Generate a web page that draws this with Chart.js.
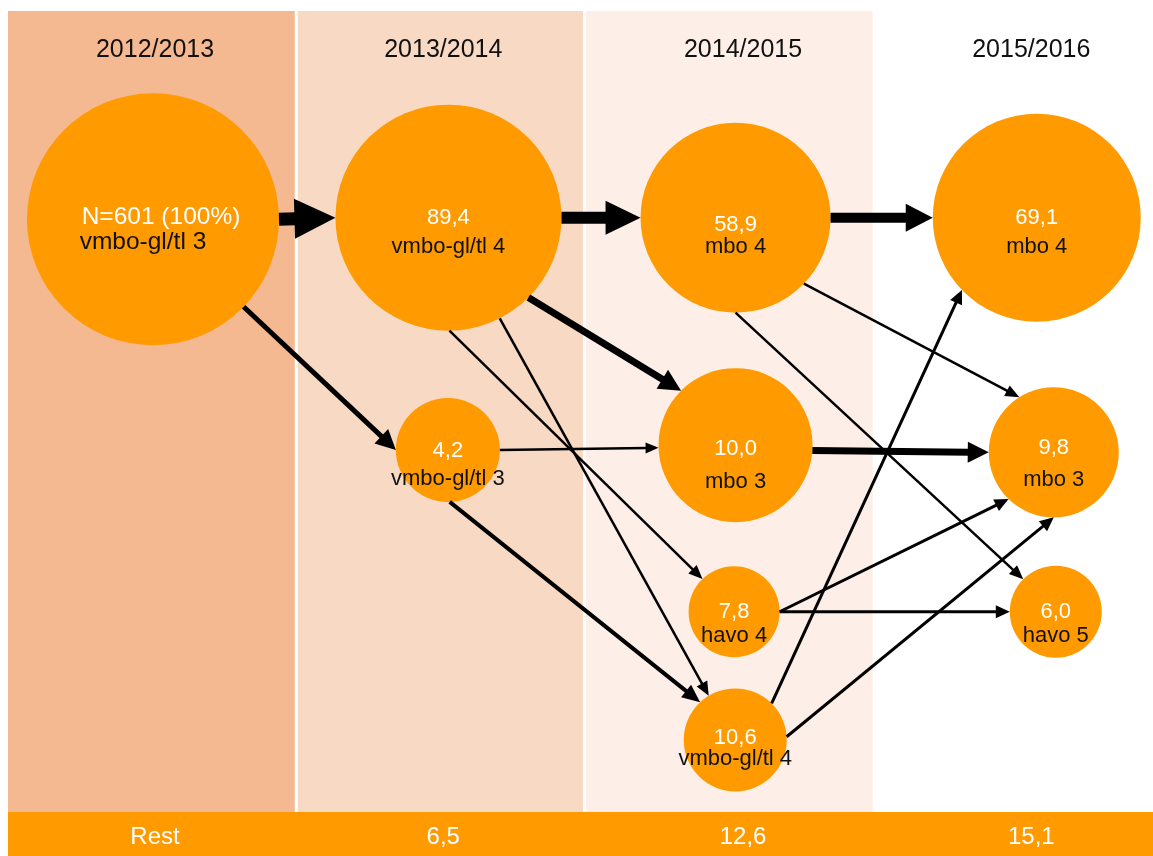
<!DOCTYPE html>
<html>
<head>
<meta charset="utf-8">
<script src="https://cdn.jsdelivr.net/npm/chart.js@4/dist/chart.umd.min.js"></script>
<style>
    html, body { margin: 0; padding: 0; background: #fff; overflow: hidden; }
    #wrap { width: 1161px; height: 856px; }
</style>
</head>
<body>
<div id="wrap"><canvas id="stroom" width="1161" height="856"></canvas></div>
<script>
// schooljaren en rest-percentages (onderste balk)
const jaren = ["2012/2013", "2013/2014", "2014/2015", "2015/2016"];
const rest = ["Rest", "6,5", "12,6", "15,1"];
const jaarPos = [0.51, 1.51, 2.55, 3.55];

// knopen: percentage, opleiding, kolom (x) en hoogte (y)
const waarden = ["N=601 (100%)", "89,4", "58,9", "69,1", "4,2", "10,0", "7,8", "10,6", "9,8", "6,0"];
const opleidingen = ["vmbo-gl/tl 3", "vmbo-gl/tl 4", "mbo 4", "mbo 4", "vmbo-gl/tl 3", "mbo 3", "havo 4", "vmbo-gl/tl 4", "mbo 3", "havo 5"];
const knoopX = [0.503, 1.528, 2.524, 3.569, 1.526, 2.524, 2.519, 2.523, 3.628, 3.635];
const knoopY = [74.0, 74.2, 74.2, 74.2, 45.2, 45.8, 25.0, 9.0, 44.9, 25.0];

// stromen van knoop naar knoop
const van = [0, 1, 2, 0, 1, 4, 5, 1, 1, 4, 2, 2, 7, 7, 6, 6];
const naar = [1, 2, 3, 4, 5, 5, 8, 6, 7, 7, 8, 9, 3, 8, 8, 9];

// opmaak (los van de data)
const straal = [126, 113, 95, 104, 52, 77, 45.5, 51.5, 65, 46];
const tekstGrootte = [24.5, 22, 22, 22, 22, 22, 22, 22, 22, 22];
// [dx waarde, dy waarde, dx opleiding, dy opleiding]
const tekstPos = [[8, -2, -10, 23], [0, 0, 0, 29], [0, 7, 0, 29], [0, 0, 0, 29], [0, 1, 0, 29],
    [0, 4, 0, 37], [0, 0, 0, 24], [0, -2, 0, 19], [0, -4, 0, 28], [0, 0, 0, 24]];
// hoek bij start, hoek bij eind, lijndikte, pijlkop lengte, pijlkop breedte
const pijlStijl = [
    [0, 180, 13, 41, 40],
    [0, 180, 12, 35, 34],
    [0, 180, 10, 27, 28],
    [44, 180, 5, 20, 20],
    [45, 225, 7, 22, 22],
    [0, 178, 2.5, 13, 11],
    [4, 180, 7, 21, 21],
    [89.5, 226, 2.5, 14, 12],
    [63, 239, 2.5, 14, 12],
    [88, 227, 4, 18, 16],
    [44, 238, 2.5, 14, 12],
    [90, 225, 2.5, 14, 12],
    [-45, 136, 3, 14, 13],
    [-3.5, 90, 3, 14, 13],
    [0, 134, 3, 14, 13],
    [0, 180, 3, 14, 13],
];
const banden = ["#F5B991", "#F8D9C4", "#FDEFE7", "#FFFFFF"];
const oranje = "#FF9A00";
const font = "'Liberation Sans', Arial, sans-serif";

const punten = waarden.map((w, i) => ({ x: knoopX[i], y: knoopY[i], r: straal[i] }));

function pijl(ctx, x1, y1, x2, y2, dikte, kopL, kopB) {
    const dx = x2 - x1, dy = y2 - y1;
    const len = Math.hypot(dx, dy);
    const ux = dx / len, uy = dy / len;
    const bx = x2 - ux * kopL, by = y2 - uy * kopL;
    ctx.beginPath();
    ctx.moveTo(x1, y1);
    ctx.lineTo(bx + ux, by + uy);
    ctx.lineWidth = dikte;
    ctx.lineCap = "butt";
    ctx.strokeStyle = "#000";
    ctx.stroke();
    ctx.beginPath();
    ctx.moveTo(x2, y2);
    ctx.lineTo(bx - uy * kopB / 2, by + ux * kopB / 2);
    ctx.lineTo(bx + uy * kopB / 2, by - ux * kopB / 2);
    ctx.closePath();
    ctx.fillStyle = "#000";
    ctx.fill();
}

const achtergrond = {
    id: "achtergrond",
    beforeDatasetsDraw(chart) {
        const ctx = chart.ctx;
        const x = chart.scales.x, y = chart.scales.y;
        const top = chart.chartArea.top, bodem = chart.chartArea.bottom;
        ctx.save();
        ctx.fillStyle = "#fff";
        ctx.fillRect(0, 0, chart.width, chart.height);
        banden.forEach((kleur, i) => {
            const l = x.getPixelForValue(i) + (i > 0 ? 1.5 : 0);
            const r = x.getPixelForValue(i + 1) - (i == 2 ? 0 : 1.5);
            ctx.fillStyle = kleur;
            ctx.fillRect(l, top, r - l, bodem - top);
        });
        ctx.fillStyle = oranje;
        ctx.fillRect(x.getPixelForValue(0), bodem, chart.width, chart.height - bodem);
        ctx.font = "25px " + font;
        ctx.textAlign = "center";
        ctx.textBaseline = "middle";
        jaren.forEach((j, i) => {
            ctx.fillStyle = "#111";
            ctx.fillText(j, x.getPixelForValue(jaarPos[i]), y.getPixelForValue(95.15));
        });
        ctx.font = "24px " + font;
        rest.forEach((t, i) => {
            ctx.fillStyle = "#fff";
            ctx.fillText(t, x.getPixelForValue(jaarPos[i]), bodem + 25);
        });
        ctx.restore();
    },
    afterDatasetsDraw(chart) {
        const ctx = chart.ctx;
        const meta = chart.getDatasetMeta(0);
        ctx.save();
        van.forEach((a, k) => {
            const b = naar[k];
            const [h1, h2, dikte, kopL, kopB] = pijlStijl[k];
            const pa = meta.data[a], pb = meta.data[b];
            const ra = straal[a], rb = straal[b];
            const x1 = pa.x + ra * Math.cos(h1 * Math.PI / 180);
            const y1 = pa.y + ra * Math.sin(h1 * Math.PI / 180);
            const x2 = pb.x + rb * Math.cos(h2 * Math.PI / 180);
            const y2 = pb.y + rb * Math.sin(h2 * Math.PI / 180);
            pijl(ctx, x1, y1, x2, y2, dikte, kopL, kopB);
        });
        ctx.textAlign = "center";
        ctx.textBaseline = "middle";
        meta.data.forEach((p, i) => {
            const [vx, vy, ox, oy] = tekstPos[i];
            ctx.font = tekstGrootte[i] + "px " + font;
            ctx.fillStyle = "#fff";
            ctx.fillText(waarden[i], p.x + vx, p.y + vy);
            ctx.fillStyle = "#111";
            ctx.fillText(opleidingen[i], p.x + ox, p.y + oy);
        });
        ctx.restore();
    },
};

new Chart(document.getElementById("stroom"), {
    type: "bubble",
    data: {
        datasets: [
            {
                data: punten,
                backgroundColor: oranje,
                borderWidth: 0,
                hoverRadius: 0,
                hoverBorderWidth: 0,
                clip: false,
            },
        ],
    },
    options: {
        responsive: false,
        animation: false,
        events: [],
        layout: { autoPadding: false, padding: { left: 8, right: 0, top: 11, bottom: 44 } },
        scales: {
            x: { type: "linear", min: 0, max: 4, display: false },
            y: { type: "linear", min: 0, max: 100, display: false },
        },
        plugins: { legend: { display: false }, tooltip: { enabled: false } },
    },
    plugins: [achtergrond],
});
</script>
</body>
</html>
